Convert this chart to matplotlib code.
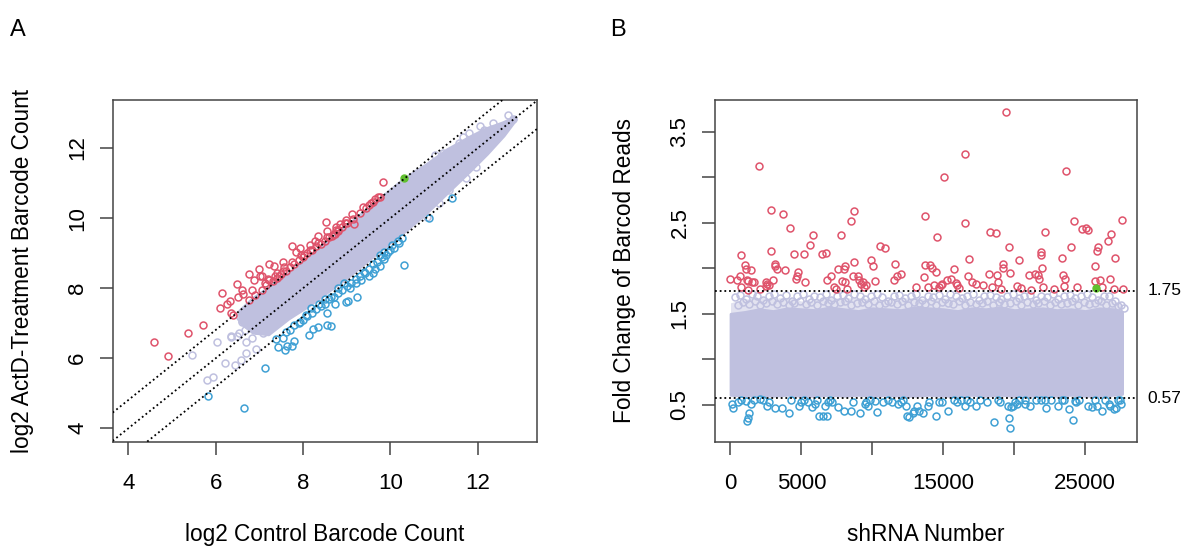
"""Barcode count scatter (A) and fold change per shRNA (B)."""
import numpy as np
import matplotlib
matplotlib.use("Agg")
import matplotlib.pyplot as plt
import matplotlib.transforms as mtransforms

plt.rcParams['font.family'] = ['Liberation Sans', 'DejaVu Sans']

# colours (R palette look)
c_up = "#DF536B"
c_down = "#3FA0D4"
c_bg = "#BFC0DF"
c_hit = "#61C02F"

# ---------------- panel A data (log2 counts) ----------------
# dense cloud, read as an envelope along the diagonal
band_a_x = [6.55, 6.85, 7.2, 7.66, 8.1, 8.54, 8.98, 9.42, 9.86, 10.33, 10.8, 11.3, 11.8, 12.2, 12.58, 12.85]
band_a_lo = [7.05, 6.75, 6.7, 7.15, 7.5, 7.9, 8.3, 8.75, 9.2, 9.65, 10.15, 10.75, 11.35, 11.85, 12.37, 12.82]
band_a_hi = [7.35, 7.7, 8.0, 8.4, 8.85, 9.3, 9.75, 10.2, 10.65, 11.13, 11.5, 11.95, 12.3, 12.55, 12.72, 12.88]

lav_a_x = [5.45, 6.02, 5.80, 5.93, 6.21, 6.44, 6.57, 6.34, 6.48, 6.70, 6.92, 6.70, 6.84, 6.54,
           6.63, 6.59, 6.74, 6.86, 6.74, 6.93, 7.08, 7.16, 7.24, 6.55, 6.36, 6.67, 6.78,
           12.81, 12.58, 12.46, 12.15, 11.96, 11.73, 11.34, 11.11, 10.83, 11.80, 11.57, 11.03,
           12.70, 12.35, 12.05, 11.65, 11.20, 10.60]
lav_a_y = [6.09, 6.45, 5.38, 5.47, 5.85, 5.81, 5.95, 6.64, 6.63, 6.14, 6.26, 6.47, 6.57, 6.73,
           7.28, 7.04, 6.95, 7.09, 7.38, 6.80, 6.71, 6.90, 7.09, 7.18, 6.61, 6.80, 7.37,
           12.84, 12.61, 12.46, 12.51, 11.46, 11.13, 10.80, 10.42, 10.04, 12.42, 12.13, 11.80,
           12.95, 12.70, 12.62, 12.30, 11.85, 11.30]

red_a_x = [4.58, 4.91, 5.36, 5.71, 6.10, 6.32, 6.15, 6.48, 6.25, 6.34, 6.39, 6.50, 6.62, 6.76,
           6.59, 6.83, 7.00, 6.76, 7.07, 7.13, 7.22, 7.33, 7.40, 7.53, 7.75, 7.84, 7.93, 8.01,
           8.15, 8.28, 8.35, 8.52, 8.54, 8.65, 8.76, 8.85, 8.98, 9.11, 9.16, 9.38, 9.51, 9.64,
           9.84, 9.71, 9.55, 8.81, 8.72, 7.57, 7.44, 7.22, 6.87, 7.02,
           6.90, 7.05, 7.15, 7.30, 7.40, 7.50, 7.60, 7.70, 7.80, 7.90, 8.00, 8.10, 8.20, 8.30,
           8.40, 8.50, 8.60, 8.70, 8.80, 8.90, 9.00, 9.15, 9.30, 9.45, 9.60, 9.75,
           7.20, 7.35, 7.55, 7.75, 7.95, 8.15, 8.35, 8.55, 8.75, 8.95]
red_a_y = [6.47, 6.06, 6.73, 6.94, 7.44, 7.62, 7.86, 8.11, 7.54, 7.29, 7.24, 7.74, 7.84, 7.66,
           7.94, 7.96, 8.56, 8.39, 8.34, 8.14, 8.69, 8.64, 8.44, 8.76, 9.19, 9.04, 9.14, 8.94,
           9.24, 9.34, 9.49, 9.89, 9.64, 9.49, 9.74, 9.84, 9.94, 10.12, 9.84, 10.31, 10.36, 10.54,
           11.03, 10.59, 10.44, 9.64, 9.54, 8.59, 8.34, 8.24, 8.24, 8.34,
           7.80, 7.95, 8.10, 8.20, 8.30, 8.40, 8.50, 8.60, 8.70, 8.80, 8.90, 9.00, 9.10, 9.20,
           9.25, 9.35, 9.45, 9.55, 9.65, 9.75, 9.85, 9.98, 10.15, 10.30, 10.45, 10.60,
           8.25, 8.35, 8.50, 8.75, 8.95, 9.10, 9.30, 9.45, 9.65, 9.85]

blue_a_x = [5.82, 6.64, 7.12, 7.38, 7.53, 7.62, 7.75, 7.79, 7.42, 7.59, 8.13, 8.23, 8.35, 8.54,
            8.63, 8.54, 8.72, 8.98, 9.03, 9.23, 9.33, 9.51, 9.60, 9.77, 9.86, 9.95, 10.08, 10.26,
            10.30, 10.88, 11.40, 7.93, 8.06, 8.19, 8.37, 8.50, 8.63, 8.81, 8.94, 9.07, 9.20,
            9.42, 9.64, 9.77, 9.86, 10.04, 10.17,
            7.60, 7.80, 8.00, 8.20, 8.40, 8.60, 8.80, 9.00, 9.20, 9.40, 9.60, 9.80, 10.00, 10.20,
            7.70, 7.90, 8.10, 8.30, 8.50, 8.70, 8.90, 9.10, 9.30, 9.50, 9.70, 9.90]
blue_a_y = [4.92, 4.59, 5.72, 6.54, 6.59, 6.34, 6.34, 6.49, 6.32, 6.23, 6.67, 6.84, 6.89, 6.96,
            6.92, 7.29, 7.54, 7.59, 7.64, 7.76, 8.24, 8.34, 8.44, 8.64, 8.84, 9.04, 9.14, 9.42,
            8.66, 9.99, 10.58, 7.04, 7.24, 7.44, 7.54, 7.69, 7.74, 7.99, 8.14, 7.99, 8.14,
            8.44, 8.54, 8.94, 9.04, 9.24, 9.34,
            6.75, 6.95, 7.10, 7.30, 7.50, 7.70, 7.85, 8.05, 8.25, 8.45, 8.70, 8.90, 9.10, 9.30,
            6.80, 7.00, 7.20, 7.40, 7.55, 7.75, 7.95, 8.15, 8.35, 8.55, 8.75, 8.95]

hit_a = (10.30, 11.15)
cut_up = 1.75
cut_down = 0.57

# ---------------- panel B data (fold change per shRNA) ----------------
cloud_b_x = [1, 1000, 2000, 3000, 4000, 5000, 6000, 7000, 8000, 9000, 10000, 11000, 12000, 13000,
             14000, 15000, 16000, 17000, 18000, 19000, 20000, 21000, 22000, 23000, 24000, 25000,
             26000, 27000, 27600]
cloud_b_low = [0.61, 0.60, 0.61, 0.60, 0.61, 0.60, 0.60, 0.61, 0.60, 0.61, 0.60, 0.61, 0.60, 0.60,
               0.61, 0.60, 0.60, 0.61, 0.60, 0.61, 0.60, 0.60, 0.61, 0.60, 0.61, 0.60, 0.60, 0.61, 0.62]
cloud_b_solid = [1.50, 1.52, 1.55, 1.53, 1.56, 1.55, 1.54, 1.57, 1.55, 1.53, 1.56, 1.55, 1.54, 1.57,
                 1.56, 1.55, 1.53, 1.56, 1.55, 1.57, 1.54, 1.55, 1.56, 1.54, 1.55, 1.53, 1.56, 1.55, 1.52]
cloud_b_fringe = [1.62, 1.66, 1.68, 1.67, 1.68, 1.64, 1.66, 1.68, 1.67, 1.68, 1.66, 1.65, 1.67, 1.68,
                  1.66, 1.67, 1.68, 1.65, 1.66, 1.67, 1.68, 1.66, 1.67, 1.65, 1.68, 1.66, 1.67, 1.64, 1.60]

# loose circles on top of the cloud
fringe_b_x = [300, 700, 1100, 1500, 1900, 2300, 2700, 3100, 3500, 3900, 4300, 4700, 5100, 5500,
              5900, 6300, 6700, 7100, 7500, 7900, 8300, 8700, 9100, 9500, 9900, 10300, 10700, 11100,
              11500, 11900, 12300, 12700, 13100, 13500, 13900, 14300, 14700, 15100, 15500, 15900,
              16300, 16700, 17100, 17500, 17900, 18300, 18700, 19100, 19500, 19900, 20300, 20700,
              21100, 21500, 21900, 22300, 22700, 23100, 23500, 23900, 24300, 24700, 25100, 25500,
              25900, 26300, 26700, 27100, 27500]
fringe_b_y = [1.68, 1.71, 1.66, 1.72, 1.69, 1.65, 1.70, 1.72, 1.67, 1.71, 1.64, 1.69, 1.72, 1.66,
              1.70, 1.68, 1.72, 1.65, 1.69, 1.71, 1.67, 1.72, 1.70, 1.66, 1.69, 1.72, 1.68, 1.64,
              1.70, 1.71, 1.67, 1.69, 1.72, 1.65, 1.70, 1.68, 1.71, 1.66, 1.72, 1.69, 1.67, 1.70,
              1.72, 1.65, 1.69, 1.71, 1.68, 1.66, 1.70, 1.72, 1.67, 1.69, 1.71, 1.65, 1.70, 1.68,
              1.72, 1.66, 1.69, 1.71, 1.67, 1.70, 1.72, 1.68, 1.65, 1.70, 1.69, 1.64, 1.60]
fringe_b_y2 = [1.60, 1.63, 1.61, 1.64, 1.60, 1.62, 1.64, 1.61, 1.63, 1.60, 1.62, 1.64, 1.61, 1.63,
               1.60, 1.64, 1.62, 1.61, 1.63, 1.64, 1.60, 1.62, 1.63, 1.61, 1.64, 1.60, 1.62, 1.63,
               1.61, 1.64, 1.60, 1.63, 1.62, 1.61, 1.64, 1.60, 1.63, 1.62, 1.61, 1.64, 1.60, 1.63,
               1.61, 1.62, 1.64, 1.60, 1.63, 1.61, 1.62, 1.64, 1.60, 1.63, 1.61, 1.62, 1.64, 1.60,
               1.63, 1.61, 1.62, 1.64, 1.60, 1.63, 1.61, 1.62, 1.64, 1.60, 1.62, 1.58, 1.56]

red_b_x = [0, 473, 658, 736, 763, 999, 1078, 1157, 1210, 1262, 1473, 1525, 1657, 1999, 2104, 2472,
           2525, 2577, 2709, 2840, 2867, 2972, 3103, 3156, 3288, 3708, 3814, 4208, 4497, 4629, 4681,
           4734, 5155, 5234, 5576, 5786, 6470, 6759, 6785, 7101, 7311, 7469, 7574, 7811, 7890, 7995,
           8048, 8101, 8232, 8521, 8626, 8679, 8732, 8995, 9047, 9205, 9310, 9415, 9547, 9889, 10020,
           10152, 10520, 10862, 11519, 11598, 11704, 11993, 13097, 13623, 13676, 13729, 13886, 14071,
           14228, 14334, 14465, 14570, 14675, 14807, 14938, 15070, 15254, 15570, 15727, 15885, 15990,
           16096, 16516, 16543, 16727, 16779, 17042, 17305, 17831, 18252, 18305, 18410, 18699, 18752,
           18883, 19041, 19173, 19225, 19409, 19672, 19620, 20198, 20330, 20461, 21066, 21198, 21435,
           21645, 21724, 21855, 21908, 21934, 22039, 22171, 22828, 23354, 23407, 23512, 23565, 23617,
           24012, 24196, 24406, 24801, 25064, 25195, 25669, 25721, 25853, 25906, 26037, 26195, 26589,
           26773, 26800, 27036, 27115, 27615, 27694]
red_b_y = [1.886, 1.874, 1.913, 1.790, 2.147, 2.039, 1.990, 1.874, 1.855, 1.759, 1.978, 1.847, 1.847,
           3.126, 1.767, 1.847, 1.805, 1.828, 1.817, 2.189, 2.638, 1.874, 2.047, 2.028, 1.990, 2.600,
           1.978, 2.446, 2.151, 1.886, 1.913, 1.959, 2.151, 1.847, 2.254, 2.362, 2.151, 2.170, 1.874,
           1.913, 1.798, 1.767, 1.986, 2.366, 1.859, 1.986, 2.028, 1.847, 1.767, 2.523, 1.913, 2.627,
           2.066, 1.913, 1.867, 1.824, 1.847, 1.790, 1.821, 2.093, 2.028, 1.855, 2.239, 2.224, 1.874,
           2.047, 1.913, 1.940, 1.798, 1.901, 2.039, 2.573, 1.790, 2.039, 2.001, 1.817, 1.959, 2.347,
           1.798, 1.817, 1.828, 3.003, 1.871, 1.882, 1.993, 1.840, 1.817, 1.782, 3.253, 2.496, 1.909,
           2.097, 1.847, 1.828, 1.817, 1.932, 2.393, 1.790, 2.385, 1.920, 1.847, 1.767, 2.051, 2.001,
           3.709, 1.943, 2.228, 1.809, 2.089, 1.778, 1.924, 1.759, 1.940, 1.920, 1.886, 2.143, 2.181,
           2.001, 1.798, 2.393, 1.771, 2.112, 1.920, 1.809, 1.882, 3.064, 2.228, 2.516, 1.790, 2.431,
           2.443, 2.420, 2.020, 1.855, 2.185, 2.228, 1.874, 1.798, 2.297, 1.878, 2.373, 1.775, 2.108,
           2.527, 1.775]

blue_b_x = [132, 210, 526, 736, 1078, 1157, 1262, 1315, 1473, 1657, 2051, 2314, 2577, 2709, 3103,
            3629, 4155, 4287, 4813, 4944, 5155, 5470, 5733, 5944, 6128, 6259, 6522, 6785, 6628, 6838,
            7048, 7180, 7574, 7969, 8521, 8626, 9100, 9468, 9547, 9678, 9810, 10204, 10336, 10730,
            11125, 11388, 11782, 11993, 12177, 12361, 12440, 12571, 12834, 12966, 13150, 13308, 13571,
            13886, 14018, 14491, 14675, 14938, 15333, 15727, 15938, 16253, 16516, 16648, 16911, 17305,
            17568, 18094, 18568, 18883, 19015, 19541, 19620, 19672, 19804, 19883, 20067, 20198, 20330,
            20724, 20777, 21119, 21566, 21908, 22171, 22250, 22565, 23091, 23354, 23486, 23880, 24143,
            24275, 24354, 24538, 25195, 25458, 25721, 25853, 26195, 26379, 26642, 26773, 27036, 27168,
            27299, 27431, 27510]
blue_b_y = [0.512, 0.469, 0.531, 0.550, 0.538, 0.320, 0.358, 0.408, 0.512, 0.550, 0.569, 0.550,
            0.492, 0.531, 0.469, 0.469, 0.408, 0.558, 0.492, 0.531, 0.550, 0.531, 0.473, 0.512,
            0.550, 0.377, 0.377, 0.377, 0.492, 0.531, 0.550, 0.531, 0.473, 0.431, 0.431, 0.531,
            0.416, 0.512, 0.531, 0.492, 0.550, 0.538, 0.423, 0.531, 0.550, 0.531, 0.504, 0.531,
            0.550, 0.492, 0.377, 0.369, 0.416, 0.435, 0.492, 0.431, 0.416, 0.492, 0.531, 0.377,
            0.531, 0.531, 0.435, 0.550, 0.531, 0.550, 0.492, 0.550, 0.531, 0.492, 0.550, 0.531,
            0.308, 0.550, 0.531, 0.492, 0.358, 0.243, 0.473, 0.492, 0.531, 0.512, 0.550, 0.550,
            0.512, 0.492, 0.558, 0.550, 0.550, 0.462, 0.550, 0.492, 0.550, 0.550, 0.454, 0.339,
            0.538, 0.531, 0.550, 0.492, 0.473, 0.550, 0.492, 0.435, 0.550, 0.512, 0.492, 0.454,
            0.462, 0.550, 0.550, 0.512]

hit_b = (25774, 1.778)

# ---------------- figure ----------------
fig = plt.figure(figsize=(11.81, 5.48), dpi=100)
ax_a = fig.add_axes([0.0954, 0.1942, 0.3595, 0.6233])
ax_b = fig.add_axes([0.6054, 0.1942, 0.3571, 0.6233])

pt_style = dict(linestyle="none", marker="o", mfc="none", ms=5, mew=1.1)
dot_style = dict(color="black", linestyle=(0, (1, 1.6)), lw=1.3, zorder=5)

# panel A
ax_a.fill_between(band_a_x, band_a_lo, band_a_hi, color=c_bg, lw=3, edgecolor=c_bg, zorder=1)
ax_a.plot(lav_a_x, lav_a_y, mec=c_bg, zorder=2, **pt_style)
ax_a.plot(red_a_x, red_a_y, mec=c_up, zorder=3, **pt_style)
ax_a.plot(blue_a_x, blue_a_y, mec=c_down, zorder=3, **pt_style)
ax_a.plot(*hit_a, marker="o", ms=5, color=c_hit, zorder=4)
for off in [np.log2(cut_up), 0, np.log2(cut_down)]:
    ax_a.axline((0, off), slope=1, **dot_style)

ax_a.set_xlim(3.64, 13.36)
ax_a.set_ylim(3.62, 13.37)
ax_a.set_xticks([4, 6, 8, 10, 12])
ax_a.set_yticks([4, 6, 8, 10, 12])
ax_a.set_xlabel("log2 Control Barcode Count", fontsize=16.3, labelpad=21)
ax_a.set_ylabel("log2 ActD-Treatment Barcode Count", fontsize=16.3, labelpad=24)

# panel B
ax_b.fill_between(cloud_b_x, cloud_b_low, cloud_b_solid, color=c_bg, lw=2, edgecolor=c_bg, zorder=1)
ax_b.fill_between(cloud_b_x, cloud_b_solid, cloud_b_fringe, color=c_bg, alpha=0.45, lw=0, zorder=1)
ax_b.plot(fringe_b_x, fringe_b_y, mec=c_bg, zorder=2, **pt_style)
ax_b.plot([x + 200 for x in fringe_b_x], fringe_b_y2, mec=c_bg, zorder=2, **pt_style)
ax_b.plot(red_b_x, red_b_y, mec=c_up, zorder=3, **pt_style)
ax_b.plot(blue_b_x, blue_b_y, mec=c_down, zorder=3, **pt_style)
ax_b.plot(*hit_b, marker="o", ms=5, color=c_hit, zorder=4)
trans = mtransforms.blended_transform_factory(ax_b.transAxes, ax_b.transData)
for cut in [cut_up, cut_down]:
    ax_b.axhline(cut, **dot_style)
    ax_b.text(1.025, cut, f"{cut:.2f}", transform=trans, fontsize=12.5, ha="left", va="center")

ax_b.set_xlim(-1094, 28630)
ax_b.set_ylim(0.097, 3.846)
ax_b.set_xticks([0, 5000, 10000, 15000, 20000, 25000])
ax_b.set_xticklabels(["0", "5000", "", "15000", "", "25000"])
ax_b.set_yticks([0.5, 1.0, 1.5, 2.0, 2.5, 3.0, 3.5])
ax_b.set_yticklabels(["0.5", "", "1.5", "", "2.5", "", "3.5"])
ax_b.set_xlabel("shRNA Number", fontsize=16.3, labelpad=21)
ax_b.set_ylabel("Fold Change of Barcod Reads", fontsize=16.3, labelpad=24)

for ax in [ax_a, ax_b]:
    for sp in ax.spines.values():
        sp.set_color("#444444")
        sp.set_linewidth(1.1)
    ax.tick_params(length=9.4, width=1.1, color="#444444", labelsize=16)
    ax.tick_params(axis="x", pad=13)
    ax.tick_params(axis="y", pad=8.3, labelrotation=90)
    for lab in ax.get_yticklabels():
        lab.set_verticalalignment("center")

fig.text(0.0085, 0.965, "A", fontsize=17, va="top", ha="left")
fig.text(0.517, 0.965, "B", fontsize=17, va="top", ha="left")

fig.savefig("out.png", dpi=100)
